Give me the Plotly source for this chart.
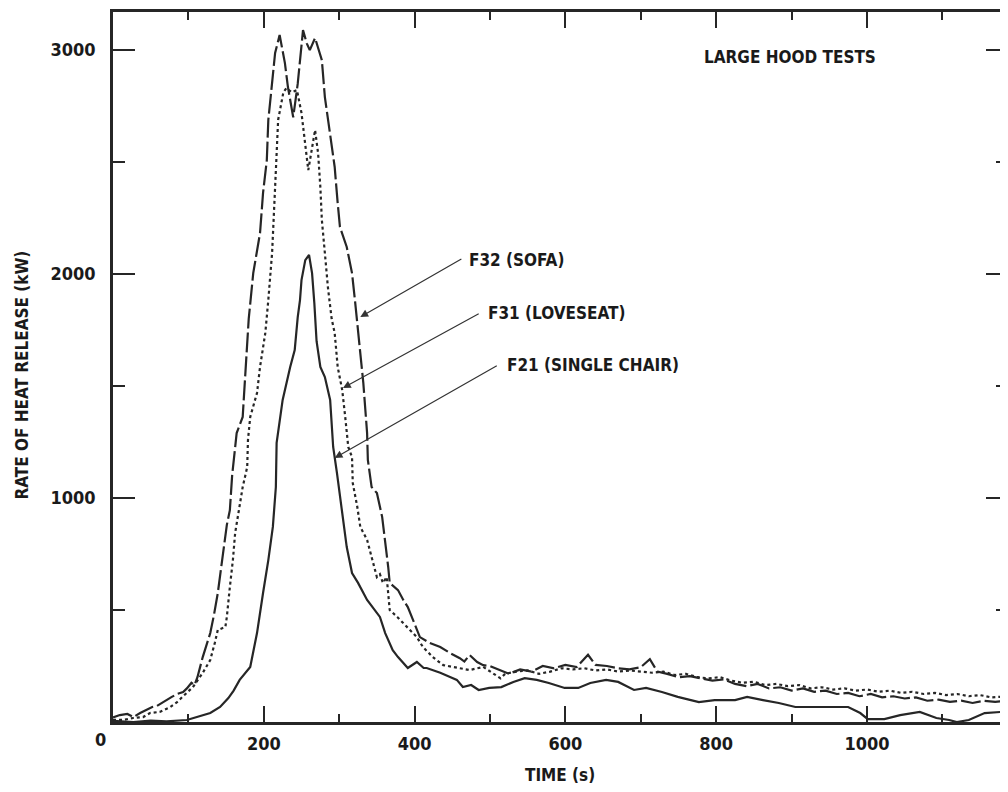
import plotly.graph_objects as go

# ---- data (time in s, rate of heat release in kW) ----
f32_t = [0, 9, 19, 27, 36, 45, 52, 58, 66, 78, 85, 93, 98, 104, 108, 112, 119, 125, 129, 134, 139, 146, 151, 155, 158, 164, 172, 175, 178, 180, 186, 195, 199, 204, 206, 211, 215, 221, 228, 232, 239, 245, 252, 257, 261, 268, 273, 277, 281, 288, 294, 298, 301, 310, 317, 321, 325, 332, 337, 338, 343, 350, 357, 361, 365, 367, 378, 385, 391, 398, 407, 420, 434, 447, 460, 466, 473, 483, 491, 500, 513, 525, 540, 555, 570, 585, 600, 615, 630, 640, 655, 670, 685, 700, 712, 722, 735, 750, 765, 780, 795, 810, 825, 840, 855, 870, 885, 900, 915, 930, 945, 960, 975, 990, 1005, 1020, 1035, 1050, 1065, 1080, 1095, 1110, 1125, 1140, 1155, 1170, 1187]
f32_q = [20, 31, 36, 22, 40, 54, 67, 71, 89, 112, 125, 134, 150, 175, 165, 200, 290, 350, 397, 480, 576, 754, 880, 946, 1100, 1290, 1362, 1527, 1705, 1800, 2004, 2183, 2362, 2509, 2688, 2866, 2987, 3067, 2942, 2835, 2700, 2850, 3089, 3030, 3000, 3054, 3000, 2955, 2790, 2629, 2478, 2317, 2210, 2121, 2004, 1880, 1737, 1513, 1290, 1170, 1049, 1022, 915, 813, 692, 621, 589, 545, 513, 455, 379, 353, 335, 308, 285, 270, 299, 268, 254, 250, 232, 215, 235, 225, 250, 240, 255, 245, 300, 255, 250, 240, 235, 245, 280, 225, 215, 200, 205, 195, 185, 190, 170, 160, 170, 150, 155, 140, 150, 135, 140, 125, 130, 115, 125, 110, 115, 105, 110, 95, 100, 90, 95, 85, 95, 90, 95]

f31_t = [0, 13, 27, 40, 49, 62, 76, 85, 93, 106, 119, 129, 135, 139, 149, 151, 155, 159, 162, 166, 172, 178, 179, 182, 191, 195, 202, 206, 211, 215, 219, 226, 230, 237, 244, 250, 255, 259, 268, 272, 275, 277, 281, 285, 290, 294, 298, 304, 308, 312, 317, 318, 324, 328, 337, 343, 350, 354, 358, 363, 365, 367, 377, 385, 394, 403, 411, 424, 438, 456, 473, 491, 504, 514, 520, 535, 550, 565, 580, 595, 610, 625, 640, 655, 670, 685, 700, 715, 730, 745, 760, 775, 790, 805, 820, 835, 850, 865, 880, 895, 910, 925, 940, 955, 970, 985, 1000, 1015, 1030, 1045, 1060, 1075, 1090, 1105, 1120, 1135, 1150, 1165, 1187]
f31_q = [10, 9, 18, 22, 40, 45, 67, 89, 115, 156, 219, 277, 353, 411, 424, 469, 603, 723, 844, 933, 1049, 1138, 1259, 1362, 1469, 1585, 1737, 1884, 2094, 2388, 2688, 2812, 2830, 2812, 2821, 2719, 2585, 2464, 2643, 2540, 2388, 2241, 2094, 1942, 1800, 1737, 1585, 1482, 1362, 1228, 1183, 1067, 960, 871, 813, 737, 647, 660, 621, 647, 576, 500, 469, 442, 411, 379, 335, 290, 254, 241, 232, 246, 219, 195, 215, 225, 230, 215, 225, 240, 235, 240, 230, 235, 225, 230, 225, 220, 225, 210, 215, 200, 195, 200, 185, 175, 180, 165, 170, 160, 165, 150, 155, 145, 150, 140, 145, 135, 140, 130, 135, 125, 130, 120, 125, 115, 120, 110, 115]

f21_t = [0, 27, 50, 71, 98, 111, 119, 129, 142, 153, 160, 168, 182, 191, 199, 206, 212, 216, 217, 219, 225, 235, 241, 245, 248, 250, 255, 260, 264, 267, 270, 275, 281, 288, 292, 297, 304, 310, 317, 325, 337, 350, 354, 361, 371, 378, 385, 391, 403, 412, 416, 434, 447, 456, 464, 475, 485, 499, 515, 531, 546, 562, 578, 599, 617, 633, 654, 670, 691, 707, 728, 749, 777, 798, 825, 841, 862, 883, 905, 931, 959, 975, 991, 1001, 1023, 1044, 1070, 1092, 1109, 1119, 1135, 1156, 1178, 1187]
f21_q = [5, 0, 6, 3, 9, 22, 31, 40, 67, 107, 140, 188, 246, 397, 576, 723, 871, 1049, 1246, 1290, 1438, 1585, 1661, 1808, 1884, 1973, 2062, 2085, 2004, 1871, 1700, 1585, 1540, 1438, 1228, 1112, 933, 781, 665, 621, 545, 487, 469, 397, 321, 290, 263, 241, 268, 241, 241, 220, 201, 188, 156, 165, 143, 152, 156, 179, 196, 188, 174, 152, 152, 174, 188, 179, 143, 152, 134, 112, 89, 98, 98, 112, 98, 85, 67, 67, 67, 67, 40, 13, 13, 31, 45, 18, 9, 0, 9, 40, 45, 40]

x_ticks = [200, 400, 600, 800, 1000]
x_minor = [100, 300, 500, 700, 900, 1100]
y_ticks = [1000, 2000, 3000]
y_minor = [500, 1500, 2500]

FONT = "DejaVu Sans Condensed, Liberation Sans Narrow, Arial Narrow, sans-serif"
INK = "#262626"
TXT = "#1a1a1a"

fig = go.Figure()
fig.add_trace(go.Scatter(x=f32_t, y=f32_q, mode="lines", name="F32 (SOFA)",
                         line=dict(color=INK, width=2.2, dash="20px,4px")))
fig.add_trace(go.Scatter(x=f31_t, y=f31_q, mode="lines", name="F31 (LOVESEAT)",
                         line=dict(color=INK, width=2.2, dash="3px,3px")))
fig.add_trace(go.Scatter(x=f21_t, y=f21_q, mode="lines", name="F21 (SINGLE CHAIR)",
                         line=dict(color=INK, width=2.2)))

axis_common = dict(showline=True, linewidth=2.5, linecolor=INK, mirror="allticks",
                   ticks="inside", tickcolor=INK, tickwidth=1.5, showgrid=False,
                   zeroline=False, automargin=False,
                   tickfont=dict(family=FONT, size=18, color=TXT, weight="bold"))

fig.update_xaxes(range=[0, 1187], tickvals=x_ticks, ticktext=[str(v) for v in x_ticks],
                 ticklen=16, ticklabelstandoff=4,
                 minor=dict(tickvals=x_minor, ticklen=8, ticks="inside", tickcolor=INK, tickwidth=1.5),
                 **axis_common)
fig.update_yaxes(range=[0, 3170], tickvals=y_ticks, ticktext=[str(v) for v in y_ticks],
                 ticklen=22, ticklabelstandoff=11,
                 minor=dict(tickvals=y_minor, ticklen=12, ticks="inside", tickcolor=INK, tickwidth=1.5),
                 **axis_common)

ann_font = dict(family=FONT, size=17, color=TXT, weight="bold")
annotations = [
    dict(x=-0.0145, y=-0.024, xref="paper", yref="paper", text="0", showarrow=False,
         xanchor="center", yanchor="middle",
         font=dict(family=FONT, size=18, color=TXT, weight="bold")),
    dict(x=0.4994, y=-0.075, xref="paper", yref="paper", text="TIME (s)",
         showarrow=False, font=dict(family=FONT, size=17, color=TXT, weight="bold"),
         xanchor="center", yanchor="middle"),
    dict(x=-0.102, y=0.489, xref="paper", yref="paper", text="RATE OF HEAT RELEASE (kW)",
         showarrow=False, textangle=-90, font=dict(family=FONT, size=17, color=TXT, weight="bold"),
         xanchor="center", yanchor="middle"),
    dict(x=898, y=2969, xref="x", yref="y", text="LARGE HOOD TESTS", showarrow=False,
         font=ann_font, xanchor="center", yanchor="middle"),
    # label texts
    dict(x=470, y=2062, xref="x", yref="y", text="F32 (SOFA)", showarrow=False,
         font=ann_font, xanchor="left", yanchor="middle"),
    dict(x=495, y=1826, xref="x", yref="y", text="F31 (LOVESEAT)", showarrow=False,
         font=ann_font, xanchor="left", yanchor="middle"),
    dict(x=520, y=1594, xref="x", yref="y", text="F21 (SINGLE CHAIR)", showarrow=False,
         font=ann_font, xanchor="left", yanchor="middle"),
    # leader arrows
    dict(x=328, y=1808, ax=464, ay=2071, xref="x", yref="y", axref="x", ayref="y",
         text="", showarrow=True, arrowhead=2, arrowsize=1.3, arrowwidth=1.2, arrowcolor="#333"),
    dict(x=305, y=1491, ax=487, ay=1826, xref="x", yref="y", axref="x", ayref="y",
         text="", showarrow=True, arrowhead=2, arrowsize=1.3, arrowwidth=1.2, arrowcolor="#333"),
    dict(x=294, y=1179, ax=511, ay=1594, xref="x", yref="y", axref="x", ayref="y",
         text="", showarrow=True, arrowhead=2, arrowsize=1.3, arrowwidth=1.2, arrowcolor="#333"),
]

# The page body keeps the browser's 8px margin, so the figure is 8px smaller
# and its margins are shifted so the plot box lands where the reference has it.
fig.update_layout(width=1000, height=784, margin=dict(l=105, r=0, t=4, b=70),
                  paper_bgcolor="white", plot_bgcolor="white", showlegend=False,
                  annotations=annotations)

fig.write_html("out.html")
